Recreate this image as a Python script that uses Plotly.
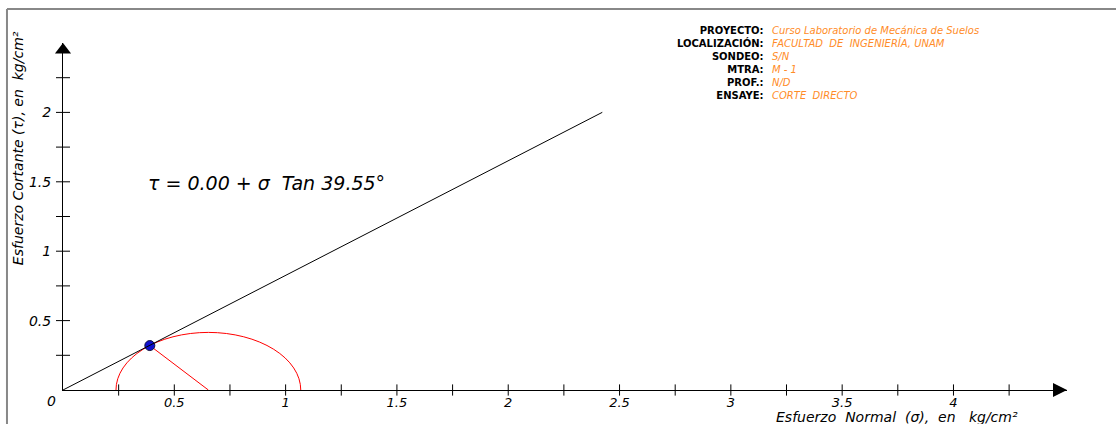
import plotly.graph_objects as go
import numpy as np

# ---------------- data ----------------
# Mohr circle (direct shear test)
SIGMA3 = 0.238          # kg/cm2, left end of circle
SIGMA1 = 1.068          # kg/cm2, right end of circle
POINT_SIGMA = [0.39]    # failure point, normal stress
POINT_TAU = [0.32]      # failure point, shear stress
COHESION = 0.00         # kg/cm2
PHI_DEG = 39.55         # friction angle
ENVELOPE_SIGMA = [0.0, 2.4225]   # extent of the failure envelope drawn

X_TICKS_MINOR = [0.25 * i for i in range(1, 18)]
Y_TICKS_MINOR = [0.25 * i for i in range(1, 10)]
X_LABEL_VALS = [0.5, 1, 1.5, 2, 2.5, 3, 3.5, 4]
X_LABEL_TEXT = ["0.5", "1", "1.5", "2", "2.5", "3", "3.5", "4"]
Y_LABEL_VALS = [0.5, 1, 1.5, 2]
Y_LABEL_TEXT = ["0.5", "1", "1.5", "2"]

HEADER_LABELS = ["PROYECTO:", "LOCALIZACIÓN:", "SONDEO:", "MTRA:", "PROF.:", "ENSAYE:"]
HEADER_VALUES = ["Curso Laboratorio de Mecánica de Suelos",
                 "FACULTAD  DE  INGENIERÍA, UNAM",
                 "S/N", "M - 1", "N/D", "CORTE  DIRECTO"]

X_END = 4.51
Y_END = 2.5
Y_ARROW = 2.45   # centre of the up-arrow head (tip reaches Y_END)

FONT = "DejaVu Sans"
ORANGE = "#FF8C28"

# ---------------- figure ----------------
tanphi = np.tan(np.radians(PHI_DEG))
env_tau = [COHESION + s * tanphi for s in ENVELOPE_SIGMA]
center = (SIGMA1 + SIGMA3) / 2
radius = (SIGMA1 - SIGMA3) / 2

fig = go.Figure()

# radius line from failure point to circle centre
fig.add_trace(go.Scatter(x=[POINT_SIGMA[0], center], y=[POINT_TAU[0], 0],
                         mode="lines", line=dict(color="red", width=1),
                         hoverinfo="skip", cliponaxis=False))
# failure point
fig.add_trace(go.Scatter(x=POINT_SIGMA, y=POINT_TAU, mode="markers",
                         marker=dict(size=10, color="#1010d0",
                                     line=dict(color="#101040", width=1)),
                         cliponaxis=False))
# failure envelope
fig.add_trace(go.Scatter(x=ENVELOPE_SIGMA, y=env_tau, mode="lines",
                         line=dict(color="black", width=1), cliponaxis=False))
# tick marks crossing axes
fig.add_trace(go.Scatter(x=X_TICKS_MINOR, y=[0] * len(X_TICKS_MINOR), mode="markers",
                         marker=dict(symbol="line-ns-open", size=8, color="black",
                                     line=dict(color="black", width=1)),
                         cliponaxis=False, hoverinfo="skip"))
fig.add_trace(go.Scatter(x=[0] * len(Y_TICKS_MINOR), y=Y_TICKS_MINOR, mode="markers",
                         marker=dict(symbol="line-ew-open", size=10, color="black",
                                     line=dict(color="black", width=1)),
                         cliponaxis=False, hoverinfo="skip"))
# arrowheads
fig.add_trace(go.Scatter(x=[X_END], y=[0], mode="markers",
                         marker=dict(symbol="arrow-right", size=14, color="black"),
                         cliponaxis=False, hoverinfo="skip"))
fig.add_trace(go.Scatter(x=[0], y=[Y_ARROW], mode="markers",
                         marker=dict(symbol="triangle-up", size=14, color="black"),
                         cliponaxis=False, hoverinfo="skip"))

# Mohr circle (lower half clipped by plot area)
fig.add_shape(type="circle", xref="x", yref="y",
              x0=SIGMA3, x1=SIGMA1, y0=-radius, y1=radius,
              line=dict(color="red", width=1), layer="below")

# frame lines
fig.add_shape(type="line", xref="paper", yref="paper",
              x0=-0.0558, x1=1.06, y0=1.098, y1=1.098,
              line=dict(color="#888888", width=2))
fig.add_shape(type="line", xref="paper", yref="paper",
              x0=-0.0558, x1=-0.0558, y0=1.098, y1=-0.12,
              line=dict(color="#888888", width=2))

ann = []
# origin label
ann.append(dict(x=0, y=0, xref="x", yref="y", text="0", showarrow=False,
                xanchor="right", yanchor="top", xshift=-5, yshift=-1,
                font=dict(family=FONT, size=14, style="italic", color="black")))
# equation
ann.append(dict(x=0.912, y=1.49, xref="x", yref="y",
                text="τ = %.2f + σ  Tan %.2f°" % (COHESION, PHI_DEG),
                showarrow=False, xanchor="center", yanchor="middle",
                font=dict(family=FONT, size=19, style="italic", color="black")))
# axis titles
ann.append(dict(x=0.8307, y=-0.078, xref="paper", yref="paper",
                text="Esfuerzo\u00a0\u00a0Normal\u00a0\u00a0(σ),\u00a0\u00a0en\u00a0\u00a0\u00a0kg/cm²",
                showarrow=False, xanchor="center", yanchor="middle",
                font=dict(family=FONT, size=14, style="italic", color="black")))
ann.append(dict(x=-0.0448, y=0.697, xref="paper", yref="paper",
                text="Esfuerzo Cortante (τ), en\u00a0\u00a0kg/cm²", textangle=-90,
                showarrow=False, xanchor="center", yanchor="middle",
                font=dict(family=FONT, size=14, style="italic", color="black")))
# header block (two aligned columns)
top_paper = (390 - 23) / 347
ann.append(dict(x=0.700, y=top_paper, xref="paper", yref="paper",
                text="<br>".join("<b>%s</b>" % s for s in HEADER_LABELS),
                showarrow=False, xanchor="right", yanchor="top", align="right",
                font=dict(family=FONT, size=10, color="black")))
ann.append(dict(x=0.7042, y=top_paper, xref="paper", yref="paper",
                text="<br>".join(HEADER_VALUES),
                showarrow=False, xanchor="left", yanchor="top", align="left",
                font=dict(family=FONT, size=10, style="italic", color=ORANGE)))

fig.update_layout(
    width=1116, height=424,
    margin=dict(l=63, r=49, t=43, b=34),
    paper_bgcolor="white", plot_bgcolor="white",
    showlegend=False,
    annotations=ann,
    xaxis=dict(range=[0, X_END], showgrid=False, zeroline=False, automargin=False,
               showline=True, linecolor="black", linewidth=1,
               tickvals=X_LABEL_VALS, ticktext=X_LABEL_TEXT, ticks="",
               ticklabelstandoff=0,
               tickfont=dict(family=FONT, size=13, style="italic", color="black")),
    yaxis=dict(range=[0, Y_END], showgrid=False, zeroline=False, automargin=False,
               showline=True, linecolor="black", linewidth=1,
               tickvals=Y_LABEL_VALS, ticktext=Y_LABEL_TEXT, ticks="",
               ticklabelstandoff=8,
               tickfont=dict(family=FONT, size=14, style="italic", color="black")),
)

fig.write_html("out.html", config={"displayModeBar": False},
               post_script="document.body.style.margin='0';document.body.style.padding='0';")
